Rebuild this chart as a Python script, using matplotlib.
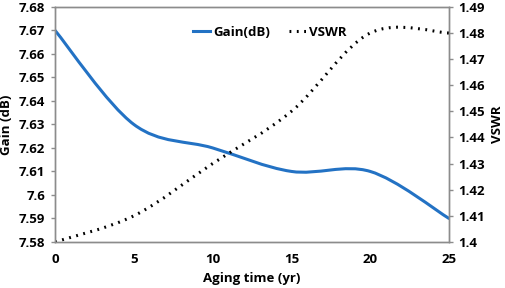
import matplotlib
matplotlib.use("Agg")
import matplotlib.pyplot as plt
from matplotlib.path import Path
from matplotlib.patches import PathPatch
from matplotlib.lines import Line2D

plt.rcParams["font.family"] = ["Open Sans", "DejaVu Sans"]
plt.rcParams["font.weight"] = "bold"

# values
years = [0, 5, 10, 15, 20, 25]
gain_db = [7.67, 7.63, 7.62, 7.61, 7.61, 7.59]
vswr = [1.40, 1.41, 1.43, 1.45, 1.48, 1.48]

BLUE = "#2372C4"
GRAY = "#8C8C8C"
FS = 9.5


def smooth_path(xs, ys):
    # Excel-style smoothed line: cubic Bezier with Catmull-Rom control points
    pts = list(zip(xs, ys))
    verts = [pts[0]]
    codes = [Path.MOVETO]
    n = len(pts)
    for i in range(n - 1):
        p0 = pts[i - 1] if i > 0 else pts[i]
        p1 = pts[i]
        p2 = pts[i + 1]
        p3 = pts[i + 2] if i + 2 < n else pts[i + 1]
        c1 = (p1[0] + (p2[0] - p0[0]) / 6, p1[1] + (p2[1] - p0[1]) / 6)
        c2 = (p2[0] - (p3[0] - p1[0]) / 6, p2[1] - (p3[1] - p1[1]) / 6)
        verts += [c1, c2, p2]
        codes += [Path.CURVE4] * 3
    return Path(verts, codes)


fig = plt.figure(figsize=(5.05, 2.88), dpi=100)
ax = fig.add_axes([0.109, 0.160, 0.780, 0.816])
ax2 = ax.twinx()

ax.add_patch(PathPatch(smooth_path(years, gain_db), fill=False,
                       edgecolor=BLUE, linewidth=2.2, capstyle="round"))
ax2.add_patch(PathPatch(smooth_path(years, vswr), fill=False,
                        edgecolor="black", linewidth=2.2,
                        linestyle=(0, (0.6, 1.8)), capstyle="butt"))

ax.set_xlim(0, 25)
ax.set_ylim(7.58, 7.68)
ax.set_xticks([0, 5, 10, 15, 20, 25])
ax.set_yticks([7.58 + 0.01 * i for i in range(11)])
ax.set_yticklabels(["7.58", "7.59", "7.6", "7.61", "7.62", "7.63",
                    "7.64", "7.65", "7.66", "7.67", "7.68"])
ax2.set_ylim(1.40, 1.49)
ax2.set_yticks([1.40 + 0.01 * i for i in range(10)])
ax2.set_yticklabels(["1.4", "1.41", "1.42", "1.43", "1.44", "1.45",
                     "1.46", "1.47", "1.48", "1.49"])

for a in (ax, ax2):
    for sp in a.spines.values():
        sp.set_color(GRAY)
        sp.set_linewidth(1.0)
    a.tick_params(colors=GRAY, labelcolor="black", labelsize=FS,
                  length=3, width=1.0, pad=4)
ax.tick_params(axis="x", length=0, pad=8)

ax.set_xlabel("Aging time (yr)", fontsize=FS, fontweight="bold", labelpad=4)
ax.set_ylabel("Gain (dB)", fontsize=FS, fontweight="bold", labelpad=4)
ax2.set_ylabel("VSWR", fontsize=FS, fontweight="bold", labelpad=4)

handles = [
    Line2D([], [], color=BLUE, linewidth=2.2),
    Line2D([], [], color="black", linewidth=2.2, linestyle=(0, (0.6, 1.8))),
]
ax.legend(handles, ["Gain(dB)", "VSWR"], loc="upper center",
          bbox_to_anchor=(0.545, 0.97), ncol=2, frameon=False,
          fontsize=FS, handlelength=1.3, handletextpad=0.25,
          columnspacing=1.4)

fig.savefig("out.png", dpi=100)
